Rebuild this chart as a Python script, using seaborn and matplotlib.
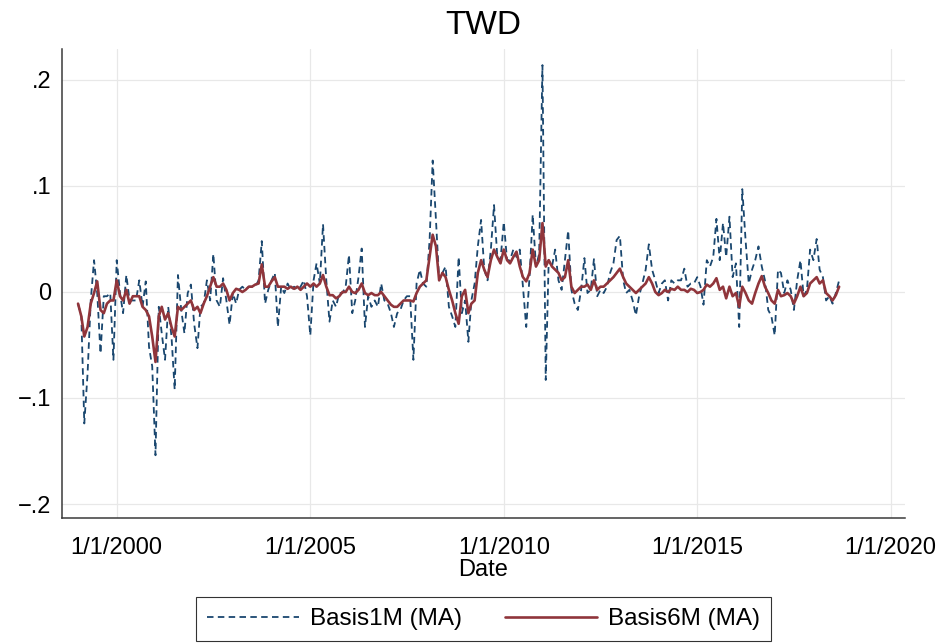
import matplotlib
matplotlib.use("Agg")
import matplotlib.pyplot as plt
from matplotlib.lines import Line2D
import numpy as np
import pandas as pd
import seaborn as sns

# ---------------- data (monthly, Jan 1999 .. Sep 2018) ----------------
start_month = "1999-01-01"
basis1m = [
    -0.011, -0.023, -0.124, -0.077, -0.008, 0.030, -0.001, -0.058, -0.004, -0.004,
    -0.001, -0.064, 0.030, -0.001, -0.020, 0.016, -0.008, -0.008, -0.008, 0.011,
    -0.014, 0.010, -0.052, -0.070, -0.154, -0.014, -0.039, -0.064, -0.014, -0.042,
    -0.092, 0.016, -0.017, -0.039, -0.001, 0.007, -0.030, -0.053, -0.014, -0.011,
    0.011, -0.008, 0.036, -0.008, -0.014, 0.013, -0.008, -0.031, -0.001, -0.011,
    0.002, 0.005, 0.002, 0.005, 0.005, 0.005, 0.011, 0.048, -0.011, 0.002,
    0.011, 0.018, -0.033, 0.005, -0.001, 0.008, 0.002, 0.005, 0.002, 0.005,
    0.011, -0.004, -0.041, 0.011, 0.027, 0.008, 0.064, 0.011, -0.028, -0.008,
    -0.014, -0.001, -0.001, 0.005, 0.035, -0.020, -0.008, 0.014, 0.041, -0.033,
    -0.004, -0.014, -0.008, -0.014, 0.008, -0.008, -0.011, -0.020, -0.033, -0.020,
    -0.017, -0.008, -0.004, -0.004, -0.064, 0.008, 0.021, 0.008, 0.005, 0.049,
    0.124, 0.068, 0.011, 0.018, 0.024, -0.014, -0.023, -0.033, 0.033, -0.020,
    -0.008, -0.047, -0.008, 0.008, 0.043, 0.068, 0.021, 0.011, 0.040, 0.082,
    0.033, 0.030, 0.066, 0.030, 0.030, 0.040, 0.033, 0.040, 0.005, -0.033,
    0.014, 0.073, 0.024, 0.036, 0.214, -0.083, 0.030, 0.024, 0.040, 0.011,
    0.002, 0.030, 0.058, 0.002, -0.011, -0.017, 0.002, 0.032, -0.001, 0.002,
    0.031, -0.004, 0.002, -0.001, 0.005, 0.018, 0.027, 0.049, 0.053, 0.011,
    -0.001, 0.002, -0.008, -0.022, -0.004, 0.008, 0.021, 0.045, 0.021, 0.011,
    -0.001, 0.008, 0.011, -0.008, 0.011, 0.008, 0.011, 0.011, 0.022, 0.005,
    0.008, 0.008, 0.014, 0.005, -0.012, 0.030, 0.024, 0.033, 0.069, 0.030,
    0.065, 0.033, 0.071, 0.014, 0.027, -0.033, 0.097, 0.049, 0.008, 0.021,
    0.030, 0.043, 0.024, 0.011, -0.017, -0.023, -0.041, 0.021, 0.018, -0.001,
    0.011, 0.002, -0.017, 0.011, 0.030, -0.004, 0.002, 0.040, 0.030, 0.050,
    0.021, 0.014, -0.008, -0.004, -0.011, -0.001, 0.011,
]
basis6m = [
    -0.011, -0.023, -0.042, -0.033, -0.011, -0.001, 0.010, -0.017, -0.020, -0.011,
    -0.008, -0.008, 0.011, -0.004, -0.008, 0.002, -0.011, -0.004, -0.004, -0.004,
    -0.014, -0.017, -0.023, -0.042, -0.066, -0.023, -0.014, -0.026, -0.020, -0.033,
    -0.042, -0.014, -0.017, -0.014, -0.011, -0.008, -0.017, -0.014, -0.020, -0.011,
    -0.004, 0.005, 0.014, 0.005, 0.005, 0.008, 0.002, -0.008, -0.001, 0.003,
    0.002, 0.000, 0.002, 0.005, 0.005, 0.007, 0.008, 0.026, 0.005, 0.005,
    0.010, 0.014, 0.005, 0.005, 0.005, 0.003, 0.005, 0.003, 0.005, 0.002,
    0.005, 0.008, 0.005, 0.008, 0.005, 0.008, 0.016, 0.005, -0.003, -0.003,
    -0.006, -0.004, 0.000, 0.000, 0.005, 0.000, -0.001, 0.002, 0.008, -0.001,
    -0.003, -0.001, -0.003, -0.003, 0.000, -0.004, -0.008, -0.012, -0.014, -0.014,
    -0.011, -0.008, -0.008, -0.008, -0.009, -0.001, 0.005, 0.008, 0.011, 0.033,
    0.054, 0.043, 0.011, 0.018, 0.014, 0.002, -0.008, -0.020, -0.030, -0.004,
    0.002, -0.020, -0.011, -0.008, 0.018, 0.030, 0.021, 0.014, 0.030, 0.040,
    0.033, 0.027, 0.040, 0.030, 0.027, 0.033, 0.038, 0.024, 0.014, 0.010,
    0.018, 0.040, 0.024, 0.030, 0.065, 0.024, 0.030, 0.024, 0.021, 0.018,
    0.011, 0.014, 0.030, 0.005, -0.001, 0.002, 0.005, 0.005, 0.007, 0.002,
    0.011, 0.002, 0.005, 0.005, 0.008, 0.011, 0.014, 0.018, 0.022, 0.014,
    0.008, 0.005, 0.002, -0.001, 0.002, 0.005, 0.008, 0.014, 0.008, 0.000,
    -0.003, -0.001, 0.002, 0.000, 0.003, 0.002, 0.005, 0.002, 0.002, 0.000,
    0.003, 0.002, -0.001, 0.000, 0.002, 0.007, 0.005, 0.008, 0.013, 0.002,
    0.005, -0.006, 0.005, -0.004, -0.001, -0.014, 0.005, -0.001, -0.008, -0.011,
    -0.001, 0.008, 0.015, 0.005, -0.001, -0.008, -0.011, 0.002, -0.004, -0.003,
    -0.001, -0.004, -0.011, -0.004, 0.005, -0.004, -0.001, 0.008, 0.011, 0.014,
    0.008, 0.011, -0.001, -0.004, -0.008, -0.003, 0.005,
]
series_labels = ["Basis1M (MA)", "Basis6M (MA)"]
ytick_values = [-0.2, -0.1, 0.0, 0.1, 0.2]
ytick_labels = ["\u2212.2", "\u2212.1", "0", ".1", ".2"]
xtick_years = [2000, 2005, 2010, 2015, 2020]
xtick_labels = ["1/1/2000", "1/1/2005", "1/1/2010", "1/1/2015", "1/1/2020"]
title_text = "TWD"
xlabel_text = "Date"

dates = pd.date_range(start_month, periods=len(basis1m), freq="MS")
df = pd.DataFrame({"Date": dates, "b1": basis1m, "b6": basis6m})

# ---------------- style ----------------
sns.set_theme(style="white")
plt.rcParams["font.family"] = ["Liberation Sans", "DejaVu Sans"]
plt.rcParams["axes.unicode_minus"] = True
plt.rcParams["text.color"] = "black"

navy = "#1a476f"
maroon = "#90353b"
dash_style = (0, (3.6, 2.4))

fig = plt.figure(figsize=(9.4, 6.43), dpi=100)
ax = fig.add_axes([0.0660, 0.1944, 0.8968, 0.7294])

sns.lineplot(data=df, x="Date", y="b1", ax=ax, color=navy, linewidth=1.3,
             linestyle=dash_style, legend=False)
sns.lineplot(data=df, x="Date", y="b6", ax=ax, color=maroon, linewidth=1.9,
             legend=False)

ax.set_xlim(pd.Timestamp("1998-08-03"), pd.Timestamp("2020-05-15"))
ax.set_ylim(-0.2132, 0.2292)

ax.set_yticks(ytick_values)
ax.set_yticklabels(ytick_labels)
ax.set_xticks([pd.Timestamp(f"{y}-01-01") for y in xtick_years])
ax.set_xticklabels(xtick_labels)

ax.grid(True, color="#e8e8e8", linewidth=0.9)
ax.set_axisbelow(True)
for s in ["top", "right"]:
    ax.spines[s].set_visible(False)
for s in ["left", "bottom"]:
    ax.spines[s].set_color("#3a3a3a")
    ax.spines[s].set_linewidth(1.1)

ax.tick_params(axis="both", which="major", direction="out", length=4.5,
               width=1.0, color="#3a3a3a", labelsize=17, labelcolor="black")
ax.tick_params(axis="x", pad=9)
ax.tick_params(axis="y", pad=3)
ax.set_ylabel("")
ax.set_xlabel(xlabel_text, fontsize=17, labelpad=0, color="black")
ax.set_title(title_text, fontsize=24, pad=11, color="black")

handles = [
    Line2D([], [], color=navy, linewidth=1.3, linestyle=dash_style),
    Line2D([], [], color=maroon, linewidth=1.9),
]
leg = fig.legend(handles, series_labels, loc="lower center",
                 bbox_to_anchor=(0.5144, 0.003), ncol=2, fontsize=17.5,
                 frameon=True, fancybox=False, edgecolor="black",
                 handlelength=3.8, columnspacing=1.75, handletextpad=0.45,
                 borderpad=0.45, borderaxespad=0.0, labelcolor="black")
leg.get_frame().set_linewidth(0.8)

fig.savefig("out.png", dpi=100, facecolor="white")
